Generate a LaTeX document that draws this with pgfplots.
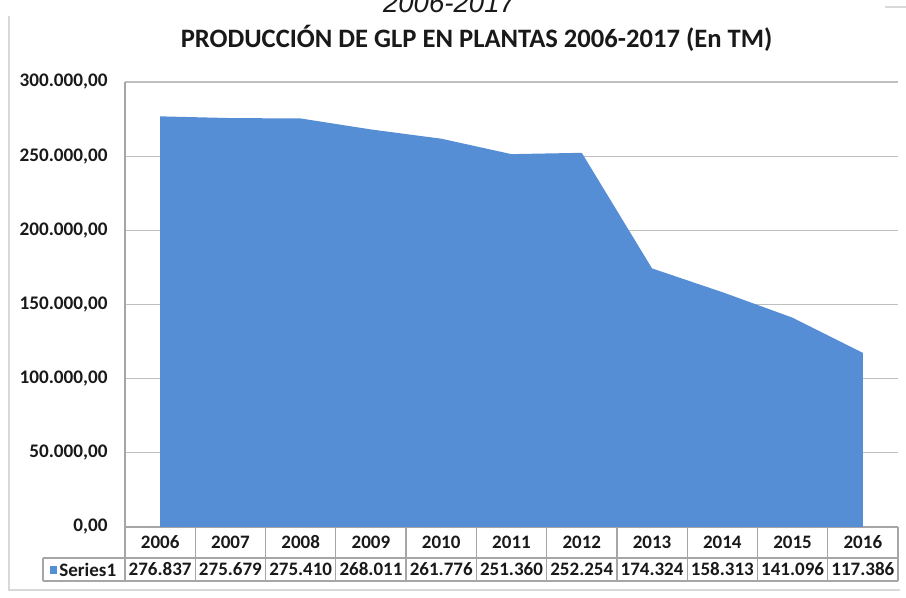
\documentclass[border=0pt]{standalone}
\usepackage{pgfplots}
\pgfplotsset{compat=1.18}
\usepackage{fontspec}
\setmainfont{Carlito}
\newfontfamily\arialfont{Liberation Sans}
\definecolor{areablue}{RGB}{85,142,213}
\definecolor{gridgray}{RGB}{191,191,191}
\definecolor{tablegray}{RGB}{166,166,166}
\definecolor{bordergray}{RGB}{217,217,217}
\definecolor{textdark}{RGB}{25,25,25}
\begin{document}
\begin{tikzpicture}
\clip (0,0) rectangle (453pt,299pt);
\begin{axis}[
  at={(62.5pt,35.5pt)}, anchor=south west,
  width=386.5pt, height=222.5pt, scale only axis,
  xmin=-0.5, xmax=10.5, ymin=0, ymax=300000,
  xtick={0,...,10},
  xticklabels={2006,2007,2008,2009,2010,2011,2012,2013,2014,2015,2016},
  ytick={0,50000,100000,150000,200000,250000,300000},
  ymajorgrids, grid style={gridgray, line width=0.6pt},
  axis x line*=bottom, axis y line*=left,
  axis line style={tablegray, line width=0.6pt, -},
  major tick length=0pt,
  scaled y ticks=false,
  /pgf/number format/assume math mode=true,
  yticklabel style={/pgf/number format/fixed, /pgf/number format/fixed zerofill,
    /pgf/number format/precision=2, /pgf/number format/use comma,
    /pgf/number format/1000 sep={.},
    font=\bfseries\fontsize{9.6}{10}\selectfont, text=textdark,
    anchor=east, inner sep=0pt, xshift=-8.5pt},
  xticklabel style={font=\bfseries\fontsize{9.5}{10}\selectfont, text=textdark,
    anchor=center, inner sep=0pt, yshift=-7.75pt},
]
\addplot[fill=areablue, draw=none] coordinates {
  (0,276837) (1,275679) (2,275410) (3,268011) (4,261776) (5,251360)
  (6,252254) (7,174324) (8,158313) (9,141096) (10,117386)
} \closedcycle;
\end{axis}
\begin{scope}[x=0.5pt, y=-0.5pt, yshift=299pt]
  % outer border
  \draw[bordergray, line width=0.8pt] (9,16) -- (9,590) -- (900,590);
  \draw[bordergray, line width=1pt] (885,7) -- (906,7);
  % table grid
  \foreach \k in {0,...,11} {
    \draw[tablegray, line width=0.6pt] ({125+70.273*\k},527) -- ({125+70.273*\k},581);
  }
  \draw[tablegray, line width=0.6pt] (43,558) -- (898,558);
  \draw[tablegray, line width=0.6pt] (43,581) -- (898,581);
  \draw[tablegray, line width=0.6pt] (43,558) -- (43,581);
  % legend key
  \fill[areablue] (50,566) rectangle (57,574);
  \node[anchor=west, inner sep=0pt, text=textdark, font=\bfseries\fontsize{9.5}{10}\selectfont] at (59,569.5) {Series1};
  \foreach \i/\v in {0/276.837,1/275.679,2/275.410,3/268.011,4/261.776,5/251.360,6/252.254,7/174.324,8/158.313,9/141.096,10/117.386} {
    \node[inner sep=0pt, text=textdark, font=\bfseries\fontsize{9.5}{10}\selectfont] at ({160.14+70.273*\i},569.5) {\v};
  }
  % title
  \node[anchor=base, inner sep=0pt, text=textdark, font=\bfseries\fontsize{13.3}{15}\selectfont] at (476.5,48) {PRODUCCIÓN DE GLP EN PLANTAS 2006-2017 (En TM)};
  % cut-off text at top
  \node[anchor=base, inner sep=0pt, text=textdark, font=\arialfont\itshape\fontsize{13.8}{16}\selectfont] at (449,13) {2006-2017};
\end{scope}
\end{tikzpicture}
\end{document}
